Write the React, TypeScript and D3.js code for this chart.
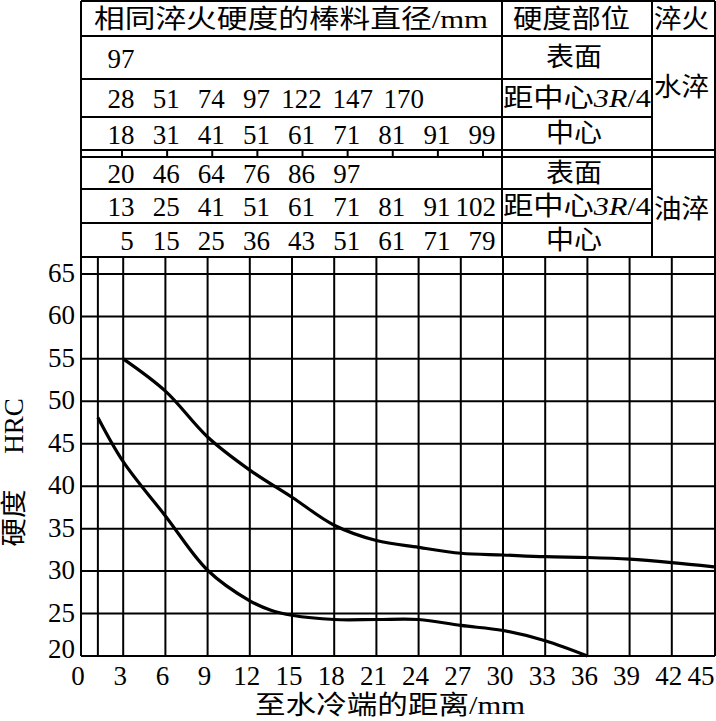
import React from 'react';
import * as d3 from 'd3';

// jominy curve, distance from quenched end (mm) vs hardness (HRC)
const xTicks = [0, 3, 6, 9, 12, 15, 18, 21, 24, 27, 30, 33, 36, 39, 42, 45];
const yTicks = [20, 25, 30, 35, 40, 45, 50, 55, 60, 65];
const firstGridX = 1.2;

const upperDist = [3, 6, 9, 12, 15, 18, 21, 24, 27, 30, 33, 36, 39, 42, 45];
const upperHRC = [55, 51.2, 45.8, 41.9, 38.7, 35.4, 33.6, 32.8, 32.1, 31.9, 31.7, 31.6, 31.4, 31.0, 30.5];

const lowerDist = [1.2, 3, 6, 9, 12, 13.5, 15, 18, 21, 24, 27, 30, 33, 36];
const lowerHRC = [48.1, 42.9, 36.5, 30.1, 26.5, 25.4, 24.8, 24.3, 24.3, 24.3, 23.6, 23.0, 21.8, 20];

// bar diameters with the same hardness
const waterRows = [
    [97],
    [28, 51, 74, 97, 122, 147, 170],
    [18, 31, 41, 51, 61, 71, 81, 91, 99],
];
const oilRows = [
    [20, 46, 64, 76, 86, 97],
    [13, 25, 41, 51, 61, 71, 81, 91, 102],
    [5, 15, 25, 36, 43, 51, 61, 71, 79],
];
const positionLabels = ['表面', '距中心', '中心'];
const quenchLabels = ['水淬', '油淬'];

const serif = "'Liberation Serif', 'Noto Sans CJK SC', serif";

const App = () => {
    const left = 81, right = 715, top = 1, chartTop = 257, bottom = 656;
    const col1 = 502, col2 = 652;

    const x = d3.scaleLinear().domain([0, 45]).range([left, 714]);
    const y = d3.scaleLinear().domain([20, 67]).range([bottom, chartTop]);
    const slot = d3.scaleLinear().domain([0, 8]).range([121, 482]);

    const upperLine = d3.line<number>()
        .x((d, i) => x(upperDist[i]))
        .y(d => y(d))
        .curve(d3.curveCatmullRom.alpha(0.5));
    const lowerLine = d3.line<number>()
        .x((d, i) => x(lowerDist[i]))
        .y(d => y(d))
        .curve(d3.curveCatmullRom.alpha(0.5));

    // row bands [top, bottom]
    const waterBands = [[36, 79], [79, 117], [117, 150]];
    const oilBands = [[157, 189], [189, 223], [223, chartTop]];

    const numX = (row: number[], i: number) => {
        const wideBefore = row.slice(0, i).filter(v => v >= 100).length;
        const single = row[i] < 10 ? 6 : 0;
        const half = String(row[i]).length * 6.75;
        return Math.min(slot(i) + 6 * wideBefore + single, col1 - 6 - half);
    };

    const renderRow = (row: number[], band: number[], key: string) => (
        <g key={key}>
            {row.map((v, i) => (
                <text key={i} x={numX(row, i)} y={(band[0] + band[1]) / 2 + 1}
                    textAnchor="middle" dominantBaseline="central" fontSize={27}>{v}</text>
            ))}
        </g>
    );

    const posLabel = (label: string, band: number[], key: string) => {
        const cy = (band[0] + band[1]) / 2;
        if (label === '距中心') {
            return (
                <text key={key} x={503} y={cy} dominantBaseline="central" fontSize={26}
                    textLength={148} lengthAdjust="spacingAndGlyphs">
                    {label}<tspan fontStyle="italic">3R</tspan>/4
                </text>
            );
        }
        return (
            <text key={key} x={(col1 + col2) / 2 - 3} y={cy} textAnchor="middle" dominantBaseline="central"
                fontSize={26} textLength={56} lengthAdjust="spacingAndGlyphs">{label}</text>
        );
    };

    const hLine = (yy: number, x1: number, x2: number, key: string) => (
        <line key={key} x1={x1} x2={x2} y1={yy} y2={yy} />
    );

    return (
        <svg width={716} height={721} style={{ position: 'absolute', left: 0, top: 0, background: '#fff' }}
            fontFamily={serif}>
            <rect width={716} height={721} fill="#fff" />

            {/* table lines */}
            <g stroke="#000" strokeWidth={2}>
                {hLine(top, left, right, 't0')}
                {hLine(36, left, right, 't1')}
                {hLine(79, left, col2, 't2')}
                {hLine(117, left, col2, 't3')}
                {hLine(150, left, right, 't4')}
                {hLine(157, left, right, 't5')}
                {hLine(189, left, col2, 't6')}
                {hLine(223, left, col2, 't7')}
                {hLine(chartTop, left, right, 't8')}
                <line x1={left} x2={left} y1={top} y2={bottom} />
                <line x1={right} x2={right} y1={top} y2={bottom} />
                <line x1={col1} x2={col1} y1={top} y2={chartTop} />
                <line x1={col2} x2={col2} y1={top} y2={chartTop} />
                {waterRows[2].map((v, i) => (
                    <line key={'tk' + i} x1={slot(i) + 1} x2={slot(i) + 1} y1={150} y2={157} />
                ))}
            </g>

            {/* table text */}
            <text x={94} y={19} dominantBaseline="central" fontSize={26}
                textLength={394} lengthAdjust="spacingAndGlyphs">相同淬火硬度的棒料直径/mm</text>
            <text x={513} y={19} dominantBaseline="central" fontSize={26}
                textLength={117} lengthAdjust="spacingAndGlyphs">硬度部位</text>
            <text x={654} y={19} dominantBaseline="central" fontSize={26}
                textLength={55} lengthAdjust="spacingAndGlyphs">淬火</text>

            {waterRows.map((row, r) => renderRow(row, waterBands[r], 'w' + r))}
            {oilRows.map((row, r) => renderRow(row, oilBands[r], 'o' + r))}
            {positionLabels.map((lab, r) => posLabel(lab, waterBands[r], 'wp' + r))}
            {positionLabels.map((lab, r) => posLabel(lab, oilBands[r], 'op' + r))}

            <text x={654} y={87} dominantBaseline="central" fontSize={26}
                textLength={55} lengthAdjust="spacingAndGlyphs">{quenchLabels[0]}</text>
            <text x={654} y={209} dominantBaseline="central" fontSize={26}
                textLength={55} lengthAdjust="spacingAndGlyphs">{quenchLabels[1]}</text>

            {/* chart grid */}
            <g stroke="#000" strokeWidth={2}>
                {yTicks.filter(t => t > 20).map(t => hLine(y(t), left, right, 'gy' + t))}
                {[firstGridX, ...xTicks.filter(t => t > 0 && t < 45)].map(t => (
                    <line key={'gx' + t} x1={x(t)} x2={x(t)} y1={chartTop} y2={bottom} />
                ))}
                {hLine(bottom, left, right, 'axis')}
            </g>

            {/* curves */}
            <path d={upperLine(upperHRC) || ''} fill="none" stroke="#000" strokeWidth={3.2} />
            <path d={lowerLine(lowerHRC) || ''} fill="none" stroke="#000" strokeWidth={3.2} />

            {/* axis labels */}
            {yTicks.map(t => (
                <text key={'yl' + t} x={75} y={y(t) - (t === 20 ? 7 : 1)} textAnchor="end"
                    dominantBaseline="central" fontSize={27}>{t}</text>
            ))}
            {xTicks.map(t => (
                <text key={'xl' + t} x={Math.min(x(t) - 3, 701)} y={676} textAnchor="middle"
                    dominantBaseline="central" fontSize={27}>{t}</text>
            ))}

            <text x={390} y={705} textAnchor="middle" dominantBaseline="central" fontSize={26}
                textLength={270} lengthAdjust="spacingAndGlyphs">至水冷端的距离/mm</text>

            <text transform="translate(14,518) rotate(-90)" textAnchor="middle" dominantBaseline="central"
                fontSize={26} textLength={57} lengthAdjust="spacingAndGlyphs">硬度</text>
            <text transform="translate(14,426) rotate(-90)" textAnchor="middle" dominantBaseline="central"
                fontSize={27}>HRC</text>
        </svg>
    );
};

export default App;
